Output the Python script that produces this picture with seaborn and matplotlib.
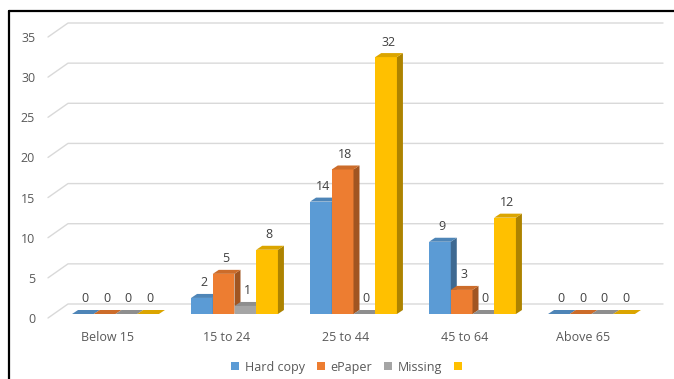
import numpy as np
import pandas as pd
import seaborn as sns
import matplotlib.pyplot as plt
from matplotlib.patches import Polygon
from matplotlib.lines import Line2D
from matplotlib.transforms import ScaledTranslation

# Data
age_groups = ["Below 15", "15 to 24", "25 to 44", "45 to 64", "Above 65"]
hard_copy = [0, 2, 14, 9, 0]
epaper = [0, 5, 18, 3, 0]
missing = [0, 1, 0, 0, 0]
unnamed = [0, 8, 32, 12, 0]
series_names = ["Hard copy", "ePaper", "Missing", ""]
colors = ["#5B9BD5", "#ED7D31", "#A5A5A5", "#FFC000"]

df = pd.DataFrame({
    "age": age_groups * 4,
    "series": np.repeat(series_names, len(age_groups)),
    "count": hard_copy + epaper + missing + unnamed,
})

sns.set_theme(style="white")
plt.rcParams["font.family"] = ["Open Sans", "DejaVu Sans"]

fig = plt.figure(figsize=(6.74, 3.79), dpi=100)
ax = fig.add_axes([56 / 674, 65 / 379, 595 / 674, 281 / 379])

sns.barplot(data=df, x="age", y="count", hue="series", hue_order=series_names,
            palette=colors, order=age_groups, width=0.73, saturation=1,
            linewidth=0, legend=False, ax=ax, errorbar=None)

ax.set_xlim(-0.5, 4.5)
ax.set_ylim(0, 35)
ax.set_xlabel("")
ax.set_ylabel("")
sns.despine(ax=ax, left=True, bottom=True)
ax.grid(False)

fig.canvas.draw()
to_fig = fig.transFigure.inverted()
dx, dy = 6, 4  # bar depth in pixels


def shade(c, f):
    rgb = np.array(plt.matplotlib.colors.to_rgb(c))
    return tuple(rgb * f)


# 3D faces for each bar, right-hand bars in front
bars = sorted([p for p in ax.patches], key=lambda p: p.get_x())
for rank, p in enumerate(bars):
    z = 2 + rank * 0.01
    p.set_zorder(z)
    x0, w, h = p.get_x(), p.get_width(), p.get_height()
    col = p.get_facecolor()
    X0, Yb = ax.transData.transform((x0, 0))
    X1, Yt = ax.transData.transform((x0 + w, h))
    top = [(X0, Yt), (X0 + dx, Yt + dy), (X1 + dx, Yt + dy), (X1, Yt)]
    side = [(X1, Yb), (X1, Yt), (X1 + dx, Yt + dy), (X1 + dx, Yb + dy)]
    ax.add_patch(Polygon(to_fig.transform(side), closed=True, transform=fig.transFigure,
                         facecolor=shade(col[:3], 0.68), edgecolor="none", zorder=z, clip_on=False))
    ax.add_patch(Polygon(to_fig.transform(top), closed=True, transform=fig.transFigure,
                         facecolor=shade(col[:3], 0.86), edgecolor="none", zorder=z, clip_on=False))
    ax.annotate(f"{h:.0f}", ((x0 + w / 2), h), xytext=(2, 15), textcoords="offset pixels",
                ha="center", va="center", fontsize=9, color="#404040", zorder=10)

# back wall gridlines with the diagonal to the front edge
for t in range(0, 40, 5):
    XL, Y = ax.transData.transform((-0.5, t))
    XR = ax.transData.transform((4.5, t))[0]
    pts = to_fig.transform([(XL - 8, Y - 4), (XL + 12, Y + 10), (XR + 12, Y + 10)])
    ax.add_line(Line2D(pts[:, 0], pts[:, 1], transform=fig.transFigure, color="#D9D9D9",
                       linewidth=1.0, zorder=0.5, clip_on=False))

ax.set_yticks(range(0, 40, 5))
ax.tick_params(axis="both", length=0, labelsize=9, labelcolor="#595959")
ax.tick_params(axis="y", pad=15)
ax.tick_params(axis="x", pad=12)
for lab in ax.get_yticklabels():
    lab.set_transform(lab.get_transform() + ScaledTranslation(0, -4 / 100, fig.dpi_scale_trans))
for lab in ax.get_xticklabels():
    lab.set_transform(lab.get_transform() + ScaledTranslation(-8 / 100, 0, fig.dpi_scale_trans))

# legend
handles = [Line2D([], [], marker="s", linestyle="none", markersize=5.2,
                  markerfacecolor=c, markeredgewidth=0) for c in colors]
fig.legend(handles, series_names, ncol=4, loc="center", bbox_to_anchor=(350 / 674, 12 / 379),
           frameon=False, fontsize=9, labelcolor="#595959", handlelength=0.55,
           handletextpad=0.5, columnspacing=1.0, borderpad=0)

# outer frame (top and left edges)
fig.add_artist(Line2D([8.5 / 674, 1], [1 - 11 / 379, 1 - 11 / 379], color="black",
                      linewidth=1.6, transform=fig.transFigure))
fig.add_artist(Line2D([8.5 / 674, 8.5 / 674], [0, 1 - 11 / 379], color="black",
                      linewidth=1.6, transform=fig.transFigure))

fig.savefig("out.png", dpi=100)
